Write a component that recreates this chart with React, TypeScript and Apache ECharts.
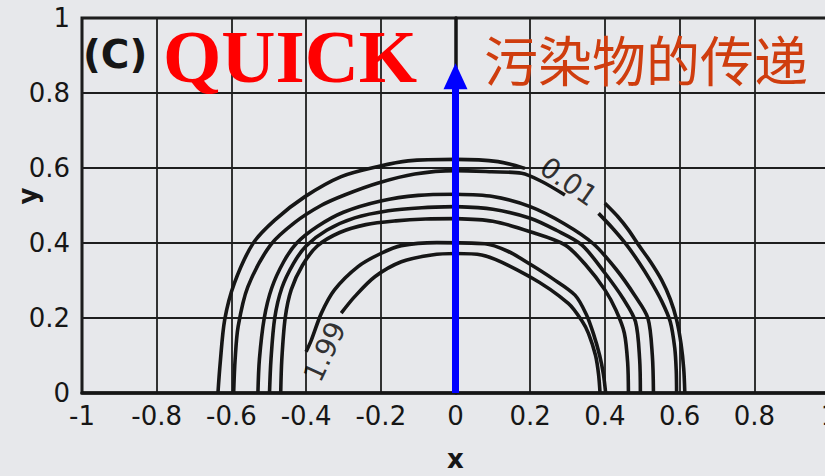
import React, { useEffect, useRef } from 'react';
import * as echarts from 'echarts';

// ---- tick labels ----
const xTickLabels = ['-1', '-0.8', '-0.6', '-0.4', '-0.2', '0', '0.2', '0.4', '0.6', '0.8', '1'];
const yTickLabels = ['0', '0.2', '0.4', '0.6', '0.8', '1'];

// ---- contour lines ([x, y]) ----
const c1Left = [[-0.636, 0], [-0.630, 0.08], [-0.618, 0.195], [-0.592, 0.293], [-0.542, 0.399], [-0.484, 0.461], [-0.404, 0.523], [-0.306, 0.577], [-0.207, 0.604], [-0.127, 0.619], [0, 0.623], [0.114, 0.617], [0.186, 0.599]];
const c1Right = [[0.400, 0.506], [0.435, 0.47], [0.463, 0.435], [0.49, 0.395], [0.522, 0.35], [0.552, 0.301], [0.575, 0.25], [0.592, 0.195], [0.604, 0.13], [0.611, 0.065], [0.614, 0]];
const c2Left = [[-0.594, 0], [-0.590, 0.09], [-0.582, 0.177], [-0.556, 0.283], [-0.495, 0.395], [-0.43, 0.455], [-0.36, 0.5], [-0.297, 0.528], [-0.207, 0.560], [-0.109, 0.584], [0, 0.593], [0.097, 0.590], [0.177, 0.586], [0.231, 0.564], [0.293, 0.528]];
const c2Right = [[0.383, 0.479], [0.42, 0.44], [0.458, 0.395], [0.49, 0.35], [0.521, 0.301], [0.552, 0.245], [0.575, 0.19], [0.587, 0.12], [0.591, 0.06], [0.592, 0]];
const c3Left = [[-0.529, 0], [-0.525, 0.09], [-0.512, 0.2], [-0.492, 0.28], [-0.46, 0.35], [-0.425, 0.4], [-0.37, 0.444], [-0.3, 0.482], [-0.2, 0.512], [-0.1, 0.527], [0, 0.530]];
const c3Right = [[0, 0.530], [0.1, 0.524], [0.2, 0.497], [0.29, 0.452], [0.369, 0.398], [0.43, 0.33], [0.48, 0.26], [0.515, 0.2], [0.527, 0.1], [0.530, 0]];
const c4Left = [[-0.498, 0], [-0.494, 0.09], [-0.484, 0.2], [-0.465, 0.28], [-0.434, 0.345], [-0.4, 0.392], [-0.345, 0.434], [-0.27, 0.467], [-0.18, 0.486], [-0.09, 0.494], [0, 0.497]];
const c4Right = [[0, 0.497], [0.1, 0.49], [0.2, 0.466], [0.27, 0.434], [0.338, 0.395], [0.4, 0.32], [0.45, 0.25], [0.482, 0.19], [0.493, 0.09], [0.495, 0]];
const c5Left = [[-0.468, 0], [-0.465, 0.09], [-0.456, 0.2], [-0.44, 0.275], [-0.41, 0.34], [-0.37, 0.392], [-0.31, 0.428], [-0.24, 0.449], [-0.16, 0.459], [-0.08, 0.464], [0, 0.465]];
const c5Right = [[0, 0.465], [0.1, 0.458], [0.2, 0.43], [0.293, 0.395], [0.35, 0.34], [0.4, 0.275], [0.43, 0.22], [0.452, 0.16], [0.461, 0.08], [0.463, 0]];
const c6 = [[-0.40, 0.11], [-0.386, 0.141], [-0.359, 0.213], [-0.324, 0.275], [-0.261, 0.337], [-0.2, 0.372], [-0.145, 0.393], [-0.05, 0.401], [0.079, 0.398], [0.14, 0.378], [0.199, 0.344], [0.26, 0.305], [0.32, 0.261], [0.35, 0.21], [0.369, 0.159], [0.386, 0.1], [0.396, 0.05], [0.402, 0]];
const c7 = [[-0.306, 0.213], [-0.27, 0.257], [-0.216, 0.31], [-0.145, 0.35], [-0.064, 0.368], [0, 0.372], [0.07, 0.368], [0.199, 0.310], [0.302, 0.239], [0.34, 0.19], [0.356, 0.159], [0.375, 0.1], [0.383, 0.05], [0.387, 0]];

const contourSegments = [c1Left, c1Right, c2Left, c2Right, c3Left, c3Right, c4Left, c4Right, c5Left, c5Right, c6, c7];

// contour labels: text, anchor point in data coords, angle (deg)
const labelTexts = ['0.01', '1.99'];
const labelPoints = [[0.303, 0.563], [-0.35, 0.11]];
const labelAngles = [-35, 65];

// blue arrow along x = 0
const arrowStart = [0, 0];
const arrowEnd = [0, 0.845];

export default function App() {
  const ref = useRef<HTMLDivElement>(null);

  useEffect(() => {
    if (!ref.current) return;
    const chart = echarts.init(ref.current, undefined, { renderer: 'svg' });
    const ink = '#161616';

    const contourSeries = contourSegments.map((seg) => ({
      type: 'line',
      data: seg,
      symbol: 'none',
      smooth: 0.3,
      silent: true,
      z: 3,
      lineStyle: { color: ink, width: 3.6 },
    }));

    const labelSeries = {
      type: 'scatter',
      symbolSize: 0,
      silent: true,
      z: 4,
      data: labelTexts.map((t, i) => ({
        value: labelPoints[i],
        label: { formatter: t, rotate: labelAngles[i] },
      })),
      label: {
        show: true,
        position: 'inside',
        fontFamily: 'DejaVu Sans',
        fontSize: 28,
        color: '#000000',
        textBorderWidth: 0,
      },
    };

    const arrowSeries = {
      type: 'line',
      data: [],
      symbol: 'none',
      z: 10,
      markLine: {
        silent: true,
        symbol: ['none', 'triangle'],
        symbolSize: [24, 26],
        label: { show: false },
        lineStyle: { color: '#0000ff', width: 7, type: 'solid', opacity: 1 },
        data: [[{ coord: arrowStart }, { coord: arrowEnd }]],
      },
    };

    chart.setOption({
      animation: false,
      backgroundColor: '#e7e8eb',
      grid: {
        left: 82,
        top: 18,
        right: -4,
        bottom: 83,
        outerBoundsMode: 'none',
        containLabel: false,
        show: true,
        borderColor: '#151515',
        borderWidth: 3,
        backgroundColor: 'transparent',
      },
      xAxis: {
        type: 'value',
        min: -1,
        max: 1,
        interval: 0.2,
        name: 'x',
        nameLocation: 'middle',
        nameGap: 53,
        nameTextStyle: { fontFamily: 'DejaVu Sans', fontWeight: 'bold', fontSize: 26, color: ink },
        axisLine: { show: true, lineStyle: { color: '#151515', width: 3.5 } },
        axisTick: { show: false },
        axisLabel: {
          margin: 10,
          fontFamily: 'DejaVu Sans',
          fontSize: 26,
          color: ink,
          formatter: (_v: number, i: number) => xTickLabels[i] ?? '',
        },
        splitLine: { show: true, lineStyle: { color: '#1e1e1e', width: 1.8 } },
      },
      yAxis: {
        type: 'value',
        min: 0,
        max: 1,
        interval: 0.2,
        axisLine: { show: true, lineStyle: { color: '#151515', width: 3.5 } },
        axisTick: { show: false },
        axisLabel: {
          margin: 12,
          fontFamily: 'DejaVu Sans',
          fontSize: 26,
          color: ink,
          formatter: (_v: number, i: number) => yTickLabels[i] ?? '',
        },
        splitLine: { show: true, lineStyle: { color: '#1e1e1e', width: 1.8 } },
      },
      graphic: [
        {
          type: 'text',
          x: 28,
          y: 196,
          rotation: Math.PI / 2,
          z: 20,
          style: { text: 'y', font: 'bold 26px "DejaVu Sans"', fill: ink, align: 'center', verticalAlign: 'middle' },
        },
        {
          type: 'text',
          x: 83,
          y: 54,
          z: 20,
          style: { text: '(C)', font: 'bold 39px "DejaVu Sans"', fill: ink, align: 'left', verticalAlign: 'middle' },
        },
        {
          type: 'text',
          x: 163,
          y: 56,
          z: 20,
          style: { text: 'QUICK', font: 'bold 75px "Liberation Serif"', fill: '#ff0000', align: 'left', verticalAlign: 'middle' },
        },
        {
          type: 'text',
          x: 484,
          y: 58,
          z: 20,
          style: { text: '污染物的传递', font: '54px "Noto Sans CJK SC"', fill: '#cf3d0e', align: 'left', verticalAlign: 'middle' },
        },
      ],
      series: [...contourSeries, labelSeries, arrowSeries],
    });

    return () => chart.dispose();
  }, []);

  return <div ref={ref} style={{ position: 'fixed', left: 0, top: 0, width: 825, height: 476 }} />;
}
